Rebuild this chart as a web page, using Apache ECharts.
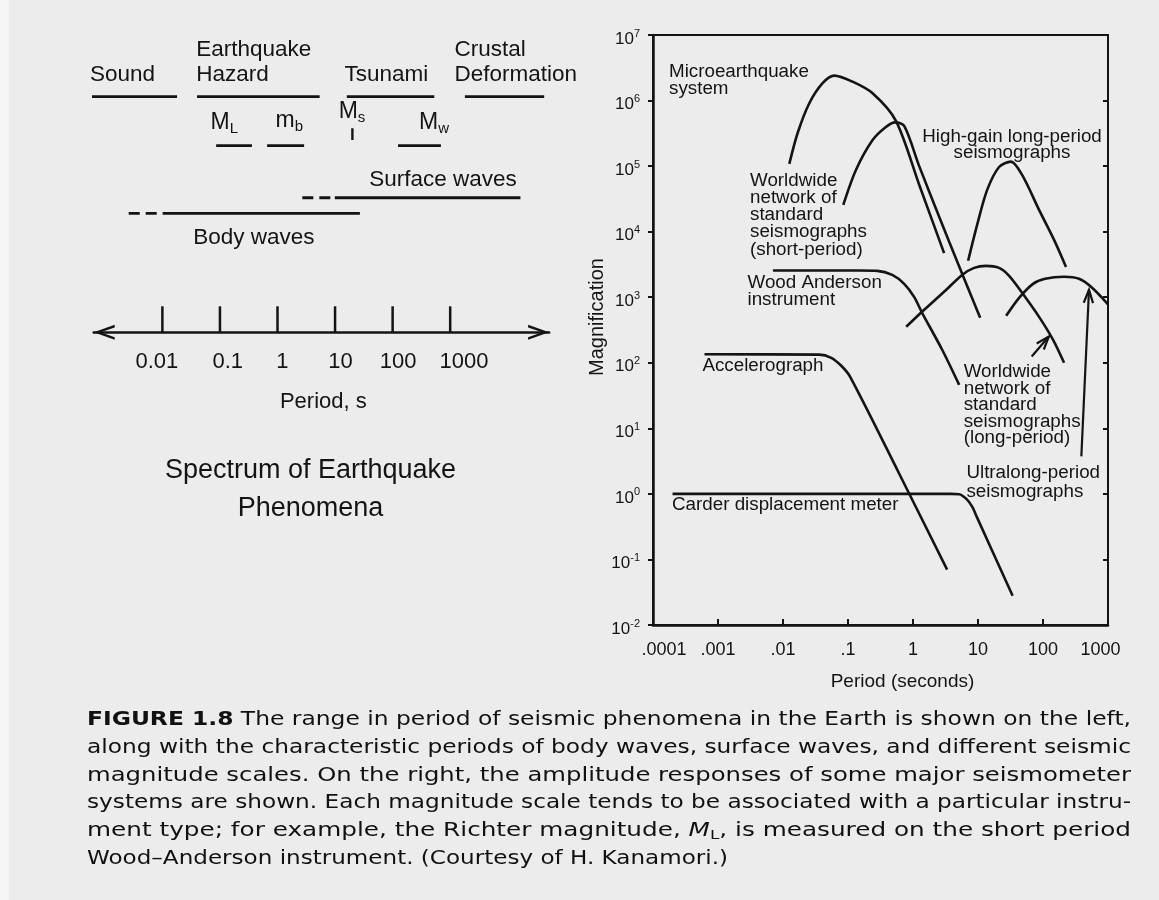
<!DOCTYPE html>
<html><head><meta charset="utf-8">
<script src="https://cdn.jsdelivr.net/npm/echarts@6/dist/echarts.min.js"></script>
<style>html,body{margin:0;padding:0;background:#ececec;}#c{width:1159px;height:900px;}</style>
</head><body><div id="c"></div>
<script>
// ================= DATA =================
// Left panel: spectrum of earthquake phenomena (periods in seconds)
const leftTickValues = [0.01, 0.1, 1, 10, 100, 1000];
const leftTickLabels = ['0.01', '0.1', '1', '10', '100', '1000'];
const phenomenaNames = ['Sound', 'Earthquake\nHazard', 'Tsunami', 'Crustal\nDeformation'];
const phenomenaPeriods = [[0.00055, 0.018], [0.04, 5.4], [16, 530], [1800, 43000]];
const magnitudeNames = ['ML', 'mb', 'Mw'];
const magnitudePeriods = [[0.086, 0.36], [0.66, 2.9], [124, 690]];
const msPeriod = 20;
const surfaceWavesDashed = [2.7, 8.9];
const surfaceWavesSolid = [9.9, 16600];
const bodyWavesDashed = [0.0026, 0.0087];
const bodyWavesSolid = [0.0101, 27];

// Right panel: instrument magnification vs period [period s, magnification]
const rightXTickLabels = ['.0001', '.001', '.01', '.1', '1', '10', '100', '1000'];
const microearthquake = [[0.0125, 1.08e5], [0.0168, 3.2e5], [0.0254, 9.1e5], [0.0407, 1.84e6], [0.0615, 2.4e6], [0.1175, 1.94e6], [0.239, 1.29e6], [0.546, 4.9e5], [1.245, 5.2e4], [3.01, 4.7e3]];
const wwssnShort = [[0.0846, 2.56e4], [0.1325, 8.75e4], [0.239, 2.5e5], [0.383, 3.96e5], [0.532, 4.64e5], [0.732, 4.1e5], [1.245, 1.0e5], [3.6, 7.0e3], [10.8, 485]];
const highGainLP = [[7.05, 3.6e3], [9.7, 1.27e4], [13.8, 4.3e4], [21.1, 9.7e4], [32, 1.17e5], [47.7, 7.35e4], [87, 2.15e4], [148, 7.5e3], [226, 2.9e3]];
const woodAnderson = [[0.007, 2550], [0.149, 2550], [0.282, 2520], [0.479, 2190], [0.732, 1600], [1.04, 1010], [1.38, 578], [2.81, 158], [5.13, 46]];
const wwssnLong = [[0.786, 354], [1.486, 643], [3.01, 1210], [5.7, 2190], [8.72, 2800], [13.3, 3010], [21.1, 2800], [30.1, 2120], [47.7, 1170], [87, 502], [143, 224], [211, 100]];
const ultraLong = [[27.1, 520], [42.9, 980], [70.3, 1600], [107.6, 1910], [211, 2050], [358, 1910], [548, 1440], [1000, 780]];
const accelerograph = [[0.00062, 135], [0.036, 133], [0.0553, 119], [0.0788, 90], [0.108, 61], [0.614, 2.03], [3.35, 0.07]];
const carder = [[0.0002, 1], [3.86, 1], [5.13, 0.99], [6.57, 0.845], [8.13, 0.638], [9.7, 0.434], [34.1, 0.028]];
const pointerArrows = [[67, 125, 123, 252], [389, 3.73, 510, 1300]];

const captionLines = [
  [['b', 'FIGURE 1.8'], ['n', ' The range in period of seismic phenomena in the Earth is shown on the left,']],
  [['n', 'along with the characteristic periods of body waves, surface waves, and different seismic']],
  [['n', 'magnitude scales. On the right, the amplitude responses of some major seismometer']],
  [['n', 'systems are shown. Each magnitude scale tends to be associated with a particular instru-']],
  [['n', 'ment type; for example, the Richter magnitude, '], ['i', 'M'], ['s', 'L'], ['n', ', is measured on the short period']],
  [['n', 'Wood\u2013Anderson instrument. (Courtesy of H. Kanamori.)']]
];

// ================= LAYOUT / STYLE =================
const FONT = 'Liberation Sans';
const INK = '#141414';
const LANES = { phenomena: 0, msTop: 1.34, msBottom: 1.84, magnitude: 2.08, surface: 4.29, body: 4.95, axis: 10 };
const LEFT_LABEL_NUDGE = [-5.5, 7.8, 4.9, 5.5, 5.4, 13.8];
const CHEVRON = 'path://M0,21L7.5,0L15,21L12.4,21L7.5,7L2.6,21Z';

function seg(data, extra) {
  return Object.assign({
    type: 'line', xAxisIndex: 0, yAxisIndex: 0, data: data, symbol: 'none', silent: true,
    clip: false, animation: false, lineStyle: { color: INK, width: 2.8 }
  }, extra || {});
}
function curve(data) {
  return {
    type: 'line', xAxisIndex: 1, yAxisIndex: 1, data: data, symbol: 'none', silent: true,
    smooth: 0.3, animation: false, lineStyle: { color: INK, width: 2.6 }
  };
}
function txt(x, y, text, size, lh, align, lines) {
  const n = lines || 1;
  return {
    type: 'text', x: x, y: y + (n - 1) * (lh || size) / 2, silent: true,
    style: { text: text, fontSize: size, fontFamily: FONT, fill: INK, align: align || 'left', verticalAlign: 'middle', lineHeight: lh || size }
  };
}
function magLabel(x, y, main, sub, mainSize) {
  return {
    type: 'text', x: x, y: y, silent: true,
    style: {
      text: '{m|' + main + '}{s|' + sub + '}', align: 'left', verticalAlign: 'middle', fill: INK, fontFamily: FONT,
      rich: {
        m: { fontSize: mainSize, lineHeight: 26, fontFamily: FONT, fill: INK },
        s: { fontSize: 15, lineHeight: 12, verticalAlign: 'bottom', fontFamily: FONT, fill: INK }
      }
    }
  };
}

// ---- left panel series ----
const series = [];
phenomenaPeriods.forEach(p => series.push(seg([[p[0], LANES.phenomena], [p[1], LANES.phenomena]])));
magnitudePeriods.forEach(p => series.push(seg([[p[0], LANES.magnitude], [p[1], LANES.magnitude]])));
series.push(seg([[msPeriod, LANES.msTop], [msPeriod, LANES.msBottom]], { lineStyle: { color: INK, width: 2.4 } }));
series.push(seg([[surfaceWavesDashed[0], LANES.surface], [surfaceWavesDashed[1], LANES.surface]], { lineStyle: { color: INK, width: 2.8, type: [11, 6] } }));
series.push(seg([[surfaceWavesSolid[0], LANES.surface], [surfaceWavesSolid[1], LANES.surface]]));
series.push(seg([[bodyWavesDashed[0], LANES.body], [bodyWavesDashed[1], LANES.body]], { lineStyle: { color: INK, width: 2.8, type: [11, 6] } }));
series.push(seg([[bodyWavesSolid[0], LANES.body], [bodyWavesSolid[1], LANES.body]]));
series.push({
  type: 'custom', xAxisIndex: 0, yAxisIndex: 0, silent: true, animation: false, clip: false,
  data: leftTickValues.map(v => [v, LANES.axis]),
  renderItem: function (params, api) {
    const i = params.dataIndex;
    const p = api.coord([api.value(0), api.value(1)]);
    return {
      type: 'group', children: [
        { type: 'line', shape: { x1: p[0], y1: p[1], x2: p[0], y2: p[1] - 26 }, style: { stroke: INK, lineWidth: 2.5 } },
        { type: 'text', x: p[0] + LEFT_LABEL_NUDGE[i], y: p[1] + 29.4, style: { text: leftTickLabels[i], fontSize: 22, fontFamily: FONT, fill: INK, align: 'center', verticalAlign: 'middle' } }
      ]
    };
  }
});

// ---- right panel series ----
[microearthquake, wwssnShort, highGainLP, woodAnderson, wwssnLong, ultraLong, accelerograph, carder].forEach(c => series.push(curve(c)));
series.push({
  type: 'custom', xAxisIndex: 1, yAxisIndex: 1, silent: true, animation: false, clip: false,
  data: pointerArrows,
  renderItem: function (params, api) {
    const p1 = api.coord([api.value(0), api.value(1)]);
    const p2 = api.coord([api.value(2), api.value(3)]);
    const ang = Math.atan2(p2[1] - p1[1], p2[0] - p1[0]);
    const L = 14, a = 0.34;
    const h1 = [p2[0] - L * Math.cos(ang - a), p2[1] - L * Math.sin(ang - a)];
    const h2 = [p2[0] - L * Math.cos(ang + a), p2[1] - L * Math.sin(ang + a)];
    return {
      type: 'group', children: [
        { type: 'line', shape: { x1: p1[0], y1: p1[1], x2: p2[0], y2: p2[1] }, style: { stroke: INK, lineWidth: 2.2 } },
        { type: 'polyline', shape: { points: [h1, p2, h2] }, style: { stroke: INK, lineWidth: 2.2, fill: null } }
      ]
    };
  }
});

// ---- caption (justified via horizontal scaling) ----
const CAP_FAMILY = 'DejaVu Sans';
const CAP_STYLES = {
  n: { fontSize: 19 }, b: { fontSize: 19, fontWeight: 'bold' },
  i: { fontSize: 19, fontStyle: 'italic' }, s: { fontSize: 13 }
};
const mctx = document.createElement('canvas').getContext('2d');
function fontStr(st) { return (st.fontStyle || 'normal') + ' ' + (st.fontWeight || 'normal') + ' ' + st.fontSize + 'px ' + CAP_FAMILY; }
const captionGraphics = captionLines.map((segs, i) => {
  let w = 0;
  segs.forEach(s => { mctx.font = fontStr(CAP_STYLES[s[0]]); w += mctx.measureText(s[1]).width; });
  const target = i < 5 ? 1044 : 641;
  const rich = {};
  Object.keys(CAP_STYLES).forEach(k => {
    rich[k] = Object.assign({ fontFamily: CAP_FAMILY, fill: '#111', lineHeight: k === 's' ? 10 : 22 }, CAP_STYLES[k]);
    if (k === 's') rich[k].verticalAlign = 'bottom';
  });
  return {
    type: 'text', x: 87, y: 720 + i * 27.8, scaleX: target / w, silent: true,
    style: { text: segs.map(s => '{' + s[0] + '|' + s[1] + '}').join(''), rich: rich, align: 'left', verticalAlign: 'middle', fill: '#111', fontFamily: CAP_FAMILY }
  };
});

const graphics = [
  { type: 'rect', shape: { x: 0, y: 0, width: 9, height: 900 }, style: { fill: '#f6f6f6' }, silent: true, z: -10 },
  // left panel texts
  txt(89.9, 75, phenomenaNames[0], 22.5),
  txt(196.3, 50, phenomenaNames[1], 22.5, 25, 'left', 2),
  txt(344.4, 75, phenomenaNames[2], 22.5),
  txt(454.5, 50, phenomenaNames[3], 22.5, 25, 'left', 2),
  magLabel(210.5, 123, 'M', 'L', 23),
  magLabel(275.5, 121, 'm', 'b', 23),
  magLabel(338.7, 112, 'M', 's', 23),
  magLabel(419, 123, 'M', 'w', 23),
  txt(369.3, 180, 'Surface waves', 22.5),
  txt(193.2, 237.7, 'Body waves', 22.5),
  txt(323.3, 401.7, 'Period, s', 22, 22, 'center'),
  txt(310.5, 471, 'Spectrum of Earthquake\nPhenomena', 27, 38, 'center', 2),
  // right panel texts
  txt(669, 71.7, 'Microearthquake\nsystem', 18.8, 17.3, 'left', 2),
  txt(1012, 136.7, 'High-gain long-period\nseismographs', 18.8, 16.6, 'center', 2),
  txt(750, 181, 'Worldwide\nnetwork of\nstandard\nseismographs\n(short-period)', 18.8, 17.1, 'left', 5),
  txt(747.5, 283.3, 'Wood Anderson\ninstrument', 18.8, 16.7, 'left', 2),
  txt(702.4, 366, 'Accelerograph', 18.8),
  txt(963.7, 371.7, 'Worldwide\nnetwork of\nstandard\nseismographs\n(long-period)', 18.8, 16.65, 'left', 5),
  txt(966.4, 473.3, 'Ultralong-period\nseismographs', 18.8, 18.4, 'left', 2),
  txt(672, 505, 'Carder displacement meter', 18.8)
].concat(captionGraphics);

const option = {
  backgroundColor: '#ececec',
  animation: false,
  grid: [
    { left: 93.7, right: 609.9, top: 96.7, bottom: 567.7, containLabel: false, outerBoundsMode: 'none' },
    { left: 653, right: 51, top: 35, bottom: 275, containLabel: false, outerBoundsMode: 'none', show: true, borderColor: INK, borderWidth: 2, backgroundColor: 'transparent' }
  ],
  xAxis: [
    {
      type: 'log', gridIndex: 0, min: 6.41e-4, max: 52300, position: 'bottom',
      axisLine: { show: true, onZero: false, symbol: [CHEVRON, CHEVRON], symbolSize: [15, 21], symbolOffset: [10.5, -10.5], lineStyle: { color: INK, width: 2.6 } },
      axisTick: { show: false }, axisLabel: { show: false }, splitLine: { show: false }
    },
    {
      type: 'log', gridIndex: 1, min: 1e-4, max: 1000, position: 'bottom',
      axisLine: { show: true, onZero: false, lineStyle: { color: INK, width: 2.5 } },
      axisTick: { show: true, inside: true, length: 6, lineStyle: { color: INK, width: 2 } },
      axisLabel: {
        show: true, margin: 16, color: INK, fontSize: 18, fontFamily: FONT, showMinLabel: true, showMaxLabel: true,
        formatter: function (v) {
          const idx = Math.round(Math.log10(v)) + 4;
          const key = idx === 0 ? 'f' : (idx === rightXTickLabels.length - 1 ? 'l' : 'n');
          return '{' + key + '|' + rightXTickLabels[idx] + '}';
        },
        rich: {
          n: { fontSize: 18, fontFamily: FONT, color: INK },
          f: { fontSize: 18, fontFamily: FONT, color: INK, padding: [0, 0, 0, 22] },
          l: { fontSize: 18, fontFamily: FONT, color: INK, padding: [0, 15, 0, 0] }
        }
      },
      splitLine: { show: false },
      name: 'Period (seconds)', nameLocation: 'middle', nameGap: 47,
      nameTextStyle: { color: INK, fontSize: 19, fontFamily: FONT, padding: [0, 0, 0, 44] }
    }
  ],
  yAxis: [
    { type: 'value', gridIndex: 0, min: 0, max: LANES.axis, inverse: true, show: false },
    {
      type: 'log', gridIndex: 1, min: 0.01, max: 1e7,
      axisLine: { show: true, onZero: false, lineStyle: { color: INK, width: 2.5 } },
      axisTick: { show: true, inside: false, length: 5, lineStyle: { color: INK, width: 2 } },
      axisLabel: {
        show: true, margin: 13, color: INK, padding: [8, 0, 0, 0], showMinLabel: true, showMaxLabel: true,
        formatter: function (v) { return '{b|10}{s|' + Math.round(Math.log10(v)) + '}'; },
        rich: {
          b: { fontSize: 17, lineHeight: 22, fontFamily: FONT, color: INK },
          s: { fontSize: 11, lineHeight: 10, verticalAlign: 'top', fontFamily: FONT, color: INK }
        }
      },
      splitLine: { show: false },
      name: 'Magnification', nameLocation: 'middle', nameGap: 31, nameRotate: 90,
      nameTextStyle: { color: INK, fontSize: 20, fontFamily: FONT, padding: [0, 0, 0, 26] }
    },
    {
      type: 'log', gridIndex: 1, min: 0.01, max: 1e7,
      axisLine: { show: false }, axisLabel: { show: false }, splitLine: { show: false },
      axisTick: { show: true, inside: true, length: 5, lineStyle: { color: INK, width: 2 } }
    }
  ],
  graphic: graphics,
  series: series
};

const chart = echarts.init(document.getElementById('c'), null, { renderer: 'canvas' });
chart.setOption(option);
</script>
</body></html>
